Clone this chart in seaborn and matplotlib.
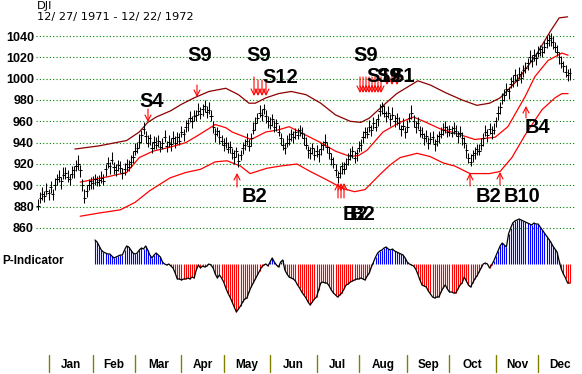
import numpy as np
import pandas as pd
import matplotlib
matplotlib.use("Agg")
import matplotlib.pyplot as plt
import seaborn as sns

# ---------------- data ----------------
close = [881, 888, 892,
         890, 895, 893, 898, 892,
         900, 906, 908, 904, 910,
         912, 908, 906, 911, 914,
         918, 920, 914,
         900, 888, 895,
         900, 904, 902, 906, 903, 905, 907, 904,
         915, 921, 918, 924,
         917, 914, 919, 916, 912, 915, 920, 917, 922,
         927, 932, 935,
         941, 947, 953, 946,
         940, 944, 935, 941, 938,
         942, 936, 940, 945, 937, 941, 939, 944, 940,
         945, 942, 950, 948, 955,
         958, 963, 960, 965,
         966, 970, 967, 972, 974, 969, 971, 965,
         955, 948, 951,
         945, 942, 938, 940, 934, 936, 930, 927, 932, 923, 928, 935,
         938, 942, 937, 944,
         952, 958, 963, 968, 966, 972,
         965, 960, 957, 962, 955, 958, 950,
         944, 938, 935, 940,
         943, 948, 945, 950, 947, 952, 949, 944,
         938, 933, 930, 935, 928, 932, 929, 934,
         938, 941, 936,
         930, 925, 920, 914, 908, 912, 918, 915,
         920, 925, 928, 932, 926, 930, 935, 938,
         945, 950, 948, 955, 952, 958, 955, 962,
         970, 974, 968,
         965, 968, 962, 966, 960, 963,
         958, 953, 956, 950, 955,
         963, 968,
         960, 955, 958, 952,
         948, 944, 946, 940, 943, 945, 939, 942, 946,
         948, 952, 955, 950, 953, 949, 954, 951,
         946, 949, 944, 940,
         933, 926, 922, 928, 930,
         934, 932, 938,
         944, 950, 947, 953, 949, 952,
         960, 968, 973,
         980, 985, 990, 988,
         995, 998, 1003, 999, 1004, 1001, 1008,
         1010, 1015, 1020, 1017, 1022, 1019,
         1024, 1028, 1025, 1030,
         1033, 1036, 1038, 1034, 1030,
         1025, 1020, 1015,
         1012, 1006, 1003, 1005]

bar_up = [6,6,6,5,7,4,6,5,7,5, 6,4,7,5,6,5,7,4,6,8, 5,6,9,5,6,4,7,5,6,5,
          6,7,5,6,4,7,5,6,5,7, 4,6,5,7,6,5,8,6,7,5, 6,5,7,4,6,5,7,5,6,4,
          7,5,6,5,7,6,5,7,6,5, 6,4,7,5,6,5,7,6,4,6, 5,7,6,5,6,4,7,5,6,5,
          7,6,5,6,4,7,5,6,5,7, 6,5,7,6,5,7,6,4,6,5, 7,5,6,4,7,5,6,5,7,6,
          5,6,4,7,5,6,5,7,4,6, 5,7,6,5,6,4,7,5,6,5, 7,6,5,6,4,7,6,5,7,5,
          6,4,7,5,6,5,7,6,5,6, 7,5,6,4,7,5,6,5,7,6, 5,6,4,7,5,6,5,7,6,5,
          6,4,7,5,6,5,7,6,4,6, 5,7,6,5,6,4,7,5,6,5, 7,6,5,6,4,7,5,6,5,7,
          6,5,7,6,5,7,6,4,6,5, 7,5,6,4,7,5,6,5,7,6, 5,6,4,7,5,6,5,7,4,6,
          5,7,6,5,6,4,7,5,6,5, 7,6,5]
bar_dn = [4,5,6,6,4,7,5,6,4,6, 5,7,4,6,5,6,4,7,5,6, 6,5,5,6,4,7,5,6,4,6,
          5,4,6,5,7,4,6,5,6,4, 6,5,7,4,5,6,4,5,6,7, 5,6,4,6,5,7,4,6,5,6,
          4,6,5,7,4,5,6,4,5,6, 5,7,4,6,5,6,4,5,7,5, 6,4,5,6,7,5,6,4,6,5,
          4,6,5,7,5,6,4,6,5,4, 5,7,4,6,5,4,6,5,7,6, 4,6,5,7,4,6,5,6,4,5,
          6,5,7,4,6,5,6,4,7,5, 6,4,5,7,6,5,4,6,5,6, 4,5,6,5,7,4,5,6,4,6,
          5,7,4,6,5,6,4,5,6,5, 4,6,5,7,4,6,5,6,4,5, 6,5,7,4,6,5,4,6,5,6,
          5,7,4,6,5,6,4,5,7,5, 6,4,5,6,5,7,4,6,5,6, 4,6,5,7,5,4,6,5,6,4,
          5,7,4,6,5,6,4,5,7,6, 4,6,5,7,4,6,5,6,4,5, 6,5,7,4,6,5,6,4,7,5,
          6,4,5,7,6,5,4,6,5,6, 4,5,6]

upper_idx = [17.5, 29, 42, 48, 52, 56, 63, 68, 74, 81, 89, 95, 100, 103, 108, 114,
             120, 127, 134, 141, 148, 153, 157, 162, 170, 180, 186, 193, 201, 208,
             214, 219, 227, 236, 243, 247, 251]
upper_val = [934, 937, 942, 950, 959, 964, 970, 976, 982, 988, 991, 985, 977, 977, 982, 986,
             988, 985, 977, 966, 960, 959, 963, 972, 986, 998, 994, 987, 980, 975,
             977, 982, 998, 1022, 1045, 1057, 1058]

middle_idx = [20, 33, 42, 48, 54.5, 63, 70, 76, 84, 89, 92, 101, 108, 114, 119, 124,
              134, 141, 148, 152, 156, 163.5, 171.5, 178, 184, 190.5, 197.6, 207,
              216.6, 222.7, 230.8, 235.5, 241.7, 248.3, 251.2]
middle_val = [903, 908, 912, 926, 932, 936, 940, 947, 957, 954, 950, 943, 950, 952, 955, 950,
              940, 932, 927, 928, 933, 950, 959, 964, 959, 953, 949, 943,
              945, 955, 983, 1002, 1017, 1024, 1022]

lower_idx = [20, 29, 39, 46, 53, 62.6, 70, 77, 84, 89.6, 96, 100.5, 108.5, 114.7, 122.7,
             129, 136, 144.5, 150, 155, 162, 166.8, 171.6, 179.6, 185.8, 192, 197.6,
             204.7, 214, 219, 224.6, 230.8, 238.9, 245, 248.3, 251.2]
lower_val = [871, 874, 877, 884, 895, 907, 912, 915, 922, 923, 918, 911, 916, 918, 920,
             913, 906, 897, 894, 896, 910, 919, 926, 930, 927, 921, 918,
             911, 911, 913, 926, 947, 971, 982, 986, 986]

pind_first = 27
pind = [24, 22, 18, 14, 12, 11, 10, 10, 8, 6,
        7, 8, 9, 9, 14, 18, 17, 14, 11, 10,
        11, 14, 16, 15, 18, 14, 9, 6, 9, 11,
        9, 7, 2, 0, -1, 0, -2, -4, -9, -15,
        -15, -16, -15, -15, -14, -15, -13, -14, -6, -1,
        -4, -2, -3, -2, 0, -1, -4, -10, -14, -11,
        -14, -18, -24, -29, -33, -38, -43, -48, -45, -42,
        -38, -35, -34, -28, -23, -19, -15, -11, -7, -3,
        -1, 0, -2, 2, 6, 2, -1, -3, 2, 4,
        -6, -10, -13, -14, -15, -17, -21, -24, -28, -31,
        -34, -38, -41, -38, -35, -33, -26, -19, -18, -19,
        -19, -22, -26, -29, -31, -33, -31, -29, -25, -21,
        -20, -18, -17, -16, -15, -15, -14, -15, -16, -12,
        -9, -3, 2, 7, 11, 13, 14, 16, 17, 15,
        14, 15, 13, 12, 11, 10, 9, 6, 2, 0,
        -1, -2, -5, -10, -16, -21, -22, -23, -27, -30,
        -33, -34, -33, -33, -28, -24, -21, -25, -28, -28,
        -29, -29, -25, -21, -19, -13, -17, -21, -23, -19,
        -15, -12, -8, -4, 0, 1, 0, -4, -1, 3,
        8, 13, 18, 21, 19, 17, 30, 36, 41, 43,
        44, 45, 44, 43, 42, 41, 40, 39, 41, 40,
        40, 37, 34, 31, 28, 25, 22, 18, 15, 12,
        3, -5, -10, -14, -19, -19]

months = ['Jan', 'Feb', 'Mar', 'Apr', 'May', 'Jun', 'Jul', 'Aug', 'Sep', 'Oct', 'Nov', 'Dec']
month_first_day = [5, 26, 46, 68, 88, 110, 132, 152, 175, 195, 217, 237]
price_ticks = [860, 880, 900, 920, 940, 960, 980, 1000, 1020, 1040]

sig_labels = ['S4', 'S9', 'S9', 'S12', 'S9', 'S12', 'S9', 'S1',
              'B2', 'B2', 'B2', 'B2', 'B10', 'B4']

# ---------------- figure ----------------
sns.set_theme(style="white")
plt.rcParams['font.family'] = ['Liberation Sans', 'DejaVu Sans']

W, H = 582, 374
fig = plt.figure(figsize=(W / 100, H / 100), dpi=100)
fig.patch.set_facecolor('white')

def px_axes(l, t, r, b):
    return fig.add_axes([l / W, 1 - b / H, (r - l) / W, (b - t) / H])

X0, X1 = -0.95, 254.5
ax = px_axes(36, 10, 575, 235)
ax.set_xlim(X0, X1)
ax.set_ylim(853.4, 1064.4)
ax.patch.set_alpha(0)

n = len(close)
df = pd.DataFrame({'day': np.arange(n), 'close': close,
                   'high': np.array(close) + np.array(bar_up),
                   'low': np.array(close) - np.array(bar_dn)})

ax.set_yticks(price_ticks)
ax.set_yticklabels([str(v) for v in price_ticks], fontweight='bold', fontsize=9)
ax.tick_params(axis='y', length=0, pad=1.5, colors='black')
ax.set_xticks([])
ax.grid(axis='y', color='#008000', linestyle=(0, (1, 2)), linewidth=0.8)
for s in ax.spines.values():
    s.set_visible(False)

# bands
bands = pd.concat([
    pd.DataFrame({'day': upper_idx, 'value': upper_val, 'band': 'upper'}),
    pd.DataFrame({'day': middle_idx, 'value': middle_val, 'band': 'middle'}),
    pd.DataFrame({'day': lower_idx, 'value': lower_val, 'band': 'lower'})])
sns.lineplot(data=bands, x='day', y='value', hue='band', ax=ax,
             palette={'upper': '#8b0000', 'middle': '#ff0000', 'lower': '#ff0000'},
             linewidth=0.9, legend=False, sort=False, estimator=None)

# HLC bars
ax.vlines(df['day'], df['low'], df['high'], color='black', linewidth=0.75, zorder=3)
ax.hlines(df['close'], df['day'] - 0.75, df['day'] + 0.75, color='black', linewidth=0.75, zorder=3)
ax.set_xlabel('')
ax.set_ylabel('')

# signals
def vpx(y):
    return 1040 - (y - 36) / 1.0667

def ipx(x):
    return (x - 38) / 2.11

arrow_spec = [  # (x_px, y_from_px, y_to_px)
    (148, 109, 122), (197, 85, 97),
    (254, 77, 96), (258, 80, 96), (262, 80, 96), (266, 80, 96),
    (360, 77, 93), (363, 77, 93), (366, 77, 93), (369, 77, 93), (372, 77, 93),
    (375, 77, 93), (378, 77, 93), (381, 77, 93), (387, 73, 85), (392, 73, 85), (397, 73, 85),
    (237, 187, 173), (338, 198, 183), (341, 198, 183), (344, 198, 183),
    (470, 186, 173), (500, 185, 172), (526, 118, 106)]
for xp, y0, y1 in arrow_spec:
    ax.annotate('', xy=(ipx(xp), vpx(y1)), xytext=(ipx(xp), vpx(y0)),
                arrowprops=dict(arrowstyle='->,head_length=0.35,head_width=0.18',
                                color='red', lw=0.8, shrinkA=0, shrinkB=0), zorder=4)

text_spec = [  # (x_px, y_px, ha)
    (151.5, 101.5, 'center'), (199.5, 55, 'center'), (258.5, 55, 'center'),
    (280, 77, 'center'), (366, 55, 'center'),
    (366, 76, 'left'), (376, 76, 'left'), (390, 76, 'left'),
    (254, 197, 'center'), (343, 215, 'left'), (350, 215, 'left'),
    (488, 197, 'center'), (522, 197, 'center'), (537.5, 128, 'center')]
for lab, (xp, yp, ha) in zip(sig_labels, text_spec):
    ax.text(ipx(xp), vpx(yp), lab, ha=ha, va='center', fontsize=14.5,
            fontweight='bold', color='black', zorder=5)

# P-indicator
axp = px_axes(36, 212, 575, 322)
axp.set_xlim(X0, X1)
axp.set_ylim(-58, 52)
axp.patch.set_alpha(0)
axp.axis('off')
pdays = np.arange(pind_first, pind_first + len(pind))
pdf = pd.DataFrame({'day': pdays, 'p': pind})
pos = pdf[pdf['p'] > 0]
neg = pdf[pdf['p'] < 0]
axp.vlines(pos['day'], 0, pos['p'], color='#0000ff', linewidth=0.8)
axp.vlines(neg['day'], 0, neg['p'], color='#ff0000', linewidth=0.8)
sns.lineplot(data=pdf, x='day', y='p', ax=axp, color='black', linewidth=0.9,
             estimator=None, legend=False)
axp.set_xlabel('')
axp.set_ylabel('')
fig.text(2 / W, 1 - 261 / H, 'P-Indicator', fontsize=8.5, fontweight='bold',
         ha='left', va='center', color='black')

# month axis
axm = px_axes(36, 352, 575, 374)
axm.set_xlim(X0, X1)
axm.set_ylim(0, 1)
axm.axis('off')
bounds = month_first_day + [258]
for k, m in enumerate(months):
    axm.plot([bounds[k], bounds[k]], [0.09, 0.86], color='#808000', linewidth=1)
    axm.text((bounds[k] + bounds[k + 1]) / 2, 0.41, m, ha='center', va='center',
             fontsize=8.5, fontweight='bold', color='black')

# title
fig.text(37 / W, 1 - 1 / H, 'DJI', fontsize=8.2, family='DejaVu Sans',
         ha='left', va='top', color='black')
fig.text(37 / W, 1 - 12 / H, '12/ 27/ 1971 - 12/ 22/ 1972', fontsize=8.2,
         family='DejaVu Sans', ha='left', va='top', color='black')

fig.savefig('out.png', dpi=100, facecolor='white')
